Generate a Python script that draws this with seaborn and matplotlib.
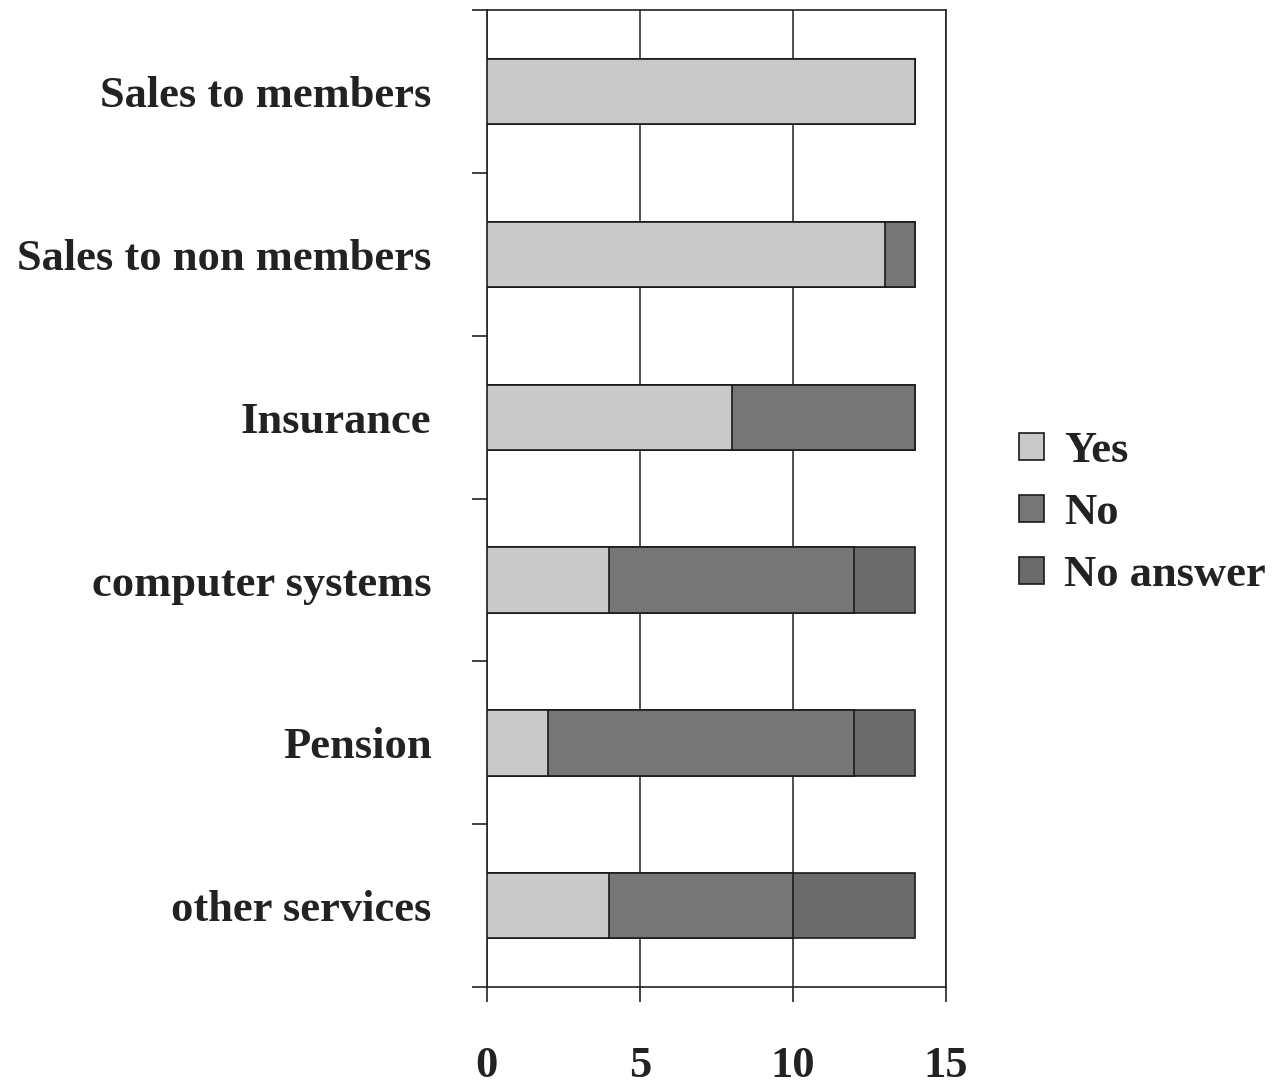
import numpy as np
import pandas as pd
import seaborn as sns
import matplotlib.pyplot as plt
from matplotlib.patches import Patch
from matplotlib.ticker import FixedLocator

categories = ['Sales to members', 'Sales to non members', 'Insurance',
              'computer systems', 'Pension', 'other services']
yes = [14, 13, 8, 4, 2, 4]
no = [0, 1, 6, 8, 10, 6]
no_answer = [0, 0, 0, 2, 2, 4]
series = ['Yes', 'No', 'No answer']
colors = ['#c9c9c9', '#767676', '#6b6b6b']

sns.set_style('white')
plt.rcParams['font.family'] = ['Liberation Serif', 'DejaVu Serif']
plt.rcParams['font.weight'] = 'bold'
txt = '#222222'

df = pd.DataFrame({'category': categories, 'Yes': yes, 'No': no, 'No answer': no_answer})
df['c_yes'] = df['Yes']
df['c_no'] = df['Yes'] + df['No']
df['c_na'] = df['Yes'] + df['No'] + df['No answer']

fig = plt.figure(figsize=(12.78, 10.85), dpi=100)
ax = fig.add_axes([0.381, 0.090, 0.359, 0.901])

# stacked: draw totals first, then partial sums on top
for col, c in zip(['c_na', 'c_no', 'c_yes'], colors[::-1]):
    sns.barplot(data=df, y='category', x=col, color=c, width=0.4,
                edgecolor='#1a1a1a', linewidth=1.2, saturation=1, ax=ax, zorder=3)

ax.set_xlim(0, 15)
ax.set_ylim(5.5, -0.5)
ax.set_xticks([0, 5, 10, 15])
ax.xaxis.grid(True, color='#222222', linewidth=1.1)
ax.yaxis.grid(False)
ax.set_axisbelow(True)
for s in ax.spines.values():
    s.set_visible(True)
    s.set_color('#222222')
    s.set_linewidth(1.2)

ax.yaxis.set_minor_locator(FixedLocator(np.arange(-0.5, 6, 1)))
ax.tick_params(axis='y', which='major', length=0, pad=40, labelsize=32, labelcolor=txt)
ax.tick_params(axis='y', which='minor', left=True, length=11, width=1.2, color='#222222', direction='out')
ax.tick_params(axis='x', which='major', bottom=True, length=11, width=1.2, color='#222222',
               direction='out', pad=31, labelsize=32, labelcolor=txt)
ax.set_xlabel('')
ax.set_ylabel('')
for lab in ax.get_xticklabels() + ax.get_yticklabels():
    lab.set_fontweight('bold')

handles = [Patch(facecolor=c, edgecolor='#1a1a1a', linewidth=1.2) for c in colors]
leg = ax.legend(handles, series, loc='center left', bbox_to_anchor=(1.12, 0.485),
                frameon=False, fontsize=32, handlelength=0.57, handleheight=0.57,
                handletextpad=0.45, labelspacing=0.5, borderaxespad=0)
for t in leg.get_texts():
    t.set_color(txt)
    t.set_fontweight('bold')

fig.savefig('out.png', dpi=100)
